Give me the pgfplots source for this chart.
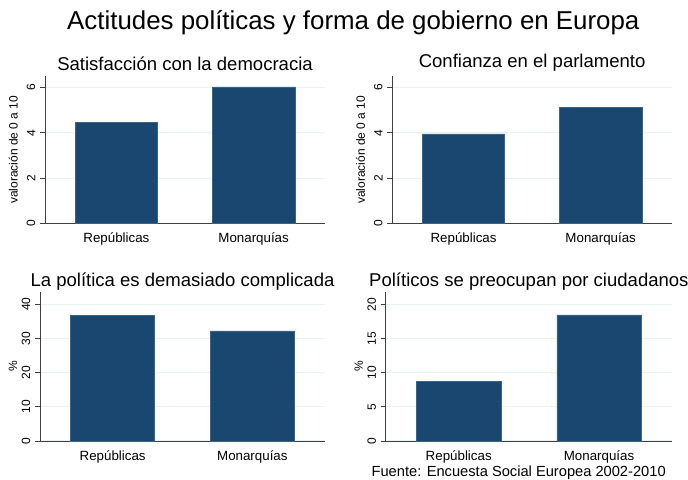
\documentclass[border=0pt]{standalone}
\usepackage{fontspec}
\setmainfont{Liberation Sans}
\usepackage{pgfplots}
\pgfplotsset{compat=1.18}
\definecolor{statanavy}{RGB}{26,71,111}
\definecolor{gridc}{RGB}{234,242,243}
\pgfplotsset{
  panel/.style={
    scale only axis,
    anchor=south west,
    ybar, bar width=0.6, bar shift=0pt,
    xmin=-0.52, xmax=1.52, ymin=0,
    xtick={0,1}, xticklabels={Repúblicas,Monarquías},
    xtick style={draw=none},
    axis x line*=bottom, axis y line*=left,
    axis line style={black!75, line width=0.6pt},
    tick align=outside, major tick length=3.75pt,
    ytick style={black!75, line width=0.6pt},
    ymajorgrids, grid style={gridc, line width=0.8pt},
    yticklabel style={font=\fontsize{9}{10}\selectfont, rotate=90, anchor=south},
    xticklabel style={font=\fontsize{10}{12}\selectfont},
    /pgf/number format/assume math mode=true,
    title style={font=\fontsize{13.9}{16}\selectfont, yshift=-5.5pt},
    ylabel style={font=\fontsize{9}{10}\selectfont},
  },
  navybar/.style={fill=statanavy, draw=statanavy!85!white, line width=0.4pt},
}
\begin{document}
\begin{tikzpicture}
\useasboundingbox (0,0) rectangle (516pt,359.25pt);
\node[font=\fontsize{19.4}{22}\selectfont] at (265pt,342.5pt) {Actitudes políticas y forma de gobierno en Europa};

\begin{axis}[panel, at={(33.75pt,191.8pt)}, width=210pt, height=110.2pt,
  ymax=6.5, ytick={0,2,4,6},
  title={Satisfacción con la democracia},
  ylabel={valoración de 0 a 10}]
\addplot[navybar] coordinates {(0,4.47) (1,6.03)};
\end{axis}

\begin{axis}[panel, at={(294.2pt,191.8pt)}, width=209.8pt, height=110.2pt,
  ymax=6.5, ytick={0,2,4,6},
  title={Confianza en el parlamento},
  ylabel={valoración de 0 a 10}]
\addplot[navybar] coordinates {(0,3.95) (1,5.12)};
\end{axis}

\begin{axis}[panel, at={(30pt,28.5pt)}, width=213.75pt, height=111.6pt,
  ymax=43.5, ytick={0,10,20,30,40},
  title={La política es demasiado complicada}, title style={yshift=-2.5pt},
  ylabel={\%}, ylabel shift=-3.5pt]
\addplot[navybar] coordinates {(0,36.8) (1,32.2)};
\end{axis}

\begin{axis}[panel, at={(289.3pt,28.5pt)}, width=214.7pt, height=111.7pt,
  ymax=21.8, ytick={0,5,10,15,20},
  title={Políticos se preocupan por ciudadanos}, title style={yshift=-2.5pt},
  ylabel={\%}, ylabel shift=-3.5pt]
\addplot[navybar] coordinates {(0,8.68) (1,18.45)};
\end{axis}

\node[font=\fontsize{11}{13}\selectfont] at (389pt,5pt) {Fuente: Encuesta Social Europea 2002-2010};
\end{tikzpicture}
\end{document}
